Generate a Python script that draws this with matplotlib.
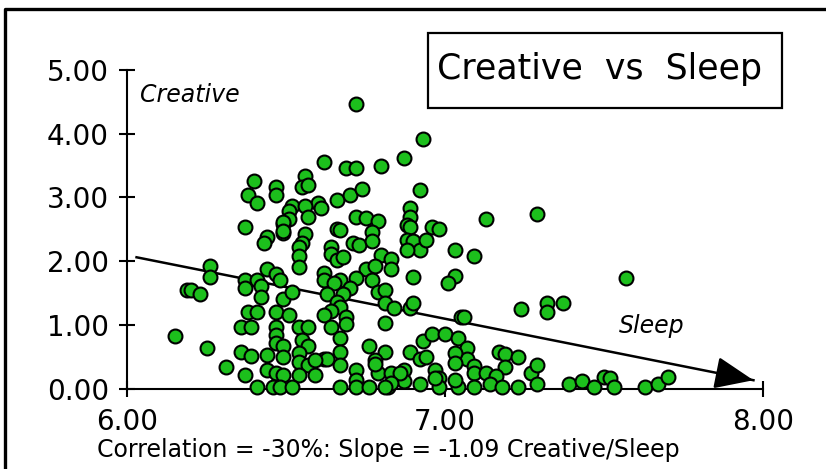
import matplotlib
matplotlib.use("Agg")
import matplotlib.pyplot as plt
from matplotlib.lines import Line2D
from matplotlib.patches import Rectangle

# Hours of sleep vs creative score
sleep = [6.72, 6.62, 6.69, 6.72, 6.40, 6.47, 6.56, 6.55, 6.57, 6.38,
         6.47, 6.41, 6.52, 6.51, 6.60, 6.61, 6.56, 6.66, 6.70, 6.74,
         6.51, 6.57, 6.49, 6.37, 6.49, 6.44, 6.43, 6.56, 6.55, 6.54,
         6.54, 6.54, 6.66, 6.67, 6.64, 6.64, 6.66, 6.68, 6.71, 6.73,
         6.72, 6.75, 6.75, 6.72, 6.62, 6.62, 6.67, 6.70, 6.65, 6.63,
         6.68, 6.66, 6.67, 6.69, 6.69, 6.64, 6.62, 6.64, 6.67, 6.67,
         6.67, 6.62, 6.63, 6.72, 6.72, 6.76, 6.67, 6.26, 6.26, 6.19,
         6.20, 6.23, 6.15, 6.25, 6.31, 6.37, 6.37, 6.41, 6.42, 6.44,
         6.47, 6.48, 6.42, 6.49, 6.52, 6.38, 6.41, 6.47, 6.51, 6.36,
         6.39, 6.47, 6.47, 6.54, 6.57, 6.55, 6.47, 6.49, 6.57, 6.36,
         6.39, 6.44, 6.49, 6.54, 6.54, 6.57, 6.59, 6.44, 6.47, 6.49,
         6.37, 6.54, 6.59, 6.41, 6.46, 6.48, 6.52, 6.72, 6.93, 6.87,
         6.80, 6.92, 7.13, 7.29, 6.89, 6.89, 6.88, 6.89, 6.79, 6.77,
         6.77, 6.88, 6.90, 6.92, 6.88, 6.94, 6.96, 6.98, 7.03, 7.09,
         6.80, 6.83, 6.78, 6.83, 6.90, 7.03, 7.01, 6.77, 6.79, 6.81,
         6.81, 6.84, 6.89, 6.90, 7.05, 7.06, 7.24, 7.32, 7.32, 7.37,
         6.81, 6.81, 6.78, 6.79, 6.83, 6.87, 6.89, 6.92, 6.94, 6.93,
         6.96, 7.00, 7.04, 7.07, 7.07, 7.03, 7.03, 6.97, 6.98, 7.09,
         7.09, 7.13, 7.17, 7.19, 7.23, 7.19, 7.16, 7.27, 7.29, 6.76,
         6.82, 6.87, 6.92, 6.98, 7.04, 7.09, 7.14, 7.18, 7.23, 7.29,
         7.39, 7.43, 7.47, 7.50, 7.52, 7.53, 7.63, 7.67, 7.70, 7.57,
         6.49, 6.49, 6.97, 7.03, 6.86, 6.78, 6.83, 6.81]
creative = [4.46, 3.55, 3.46, 3.46, 3.26, 3.17, 3.33, 3.16, 3.20, 3.04,
            3.04, 2.91, 2.87, 2.79, 2.91, 2.83, 2.86, 2.96, 3.04, 3.13,
            2.66, 2.70, 2.58, 2.53, 2.44, 2.38, 2.29, 2.42, 2.29, 2.22,
            2.08, 1.91, 2.51, 2.49, 2.22, 2.11, 2.01, 2.07, 2.28, 2.25,
            2.69, 2.68, 1.87, 1.74, 1.81, 1.70, 1.70, 1.58, 1.65, 1.49,
            1.49, 1.36, 1.28, 1.12, 1.02, 1.22, 1.15, 0.97, 0.79, 0.58,
            0.37, 0.46, 0.46, 0.29, 0.14, 0.67, 0.03, 1.92, 1.75, 1.54,
            1.54, 1.49, 0.83, 0.63, 0.33, 1.71, 1.58, 1.70, 1.61, 1.87,
            1.80, 1.70, 1.44, 1.41, 1.52, 1.20, 1.20, 1.20, 1.15, 0.96,
            0.96, 0.96, 0.84, 0.96, 0.96, 0.76, 0.71, 0.66, 0.67, 0.58,
            0.51, 0.53, 0.50, 0.55, 0.42, 0.37, 0.45, 0.29, 0.24, 0.21,
            0.21, 0.21, 0.21, 0.03, 0.03, 0.03, 0.03, 0.03, 3.91, 3.62,
            3.50, 3.11, 2.66, 2.74, 2.83, 2.69, 2.57, 2.53, 2.63, 2.45,
            2.32, 2.33, 2.32, 2.17, 2.17, 2.33, 2.54, 2.51, 2.17, 2.08,
            2.09, 2.04, 1.92, 1.87, 1.75, 1.76, 1.66, 1.70, 1.52, 1.55,
            1.34, 1.26, 1.27, 1.34, 1.13, 1.12, 1.25, 1.34, 1.20, 1.34,
            1.03, 0.58, 0.45, 0.25, 0.24, 0.29, 0.58, 0.47, 0.50, 0.75,
            0.86, 0.86, 0.79, 0.63, 0.47, 0.55, 0.40, 0.29, 0.16, 0.36,
            0.24, 0.24, 0.58, 0.54, 0.49, 0.33, 0.19, 0.24, 0.37, 0.03,
            0.03, 0.11, 0.07, 0.03, 0.03, 0.03, 0.07, 0.03, 0.03, 0.07,
            0.07, 0.11, 0.03, 0.18, 0.16, 0.03, 0.03, 0.07, 0.18, 1.74,
            2.61, 2.48, 0.17, 0.14, 0.24, 0.38, 0.08, 0.03]

# regression arrow end points (sleep, creative)
trend_x = [6.03, 7.97]
trend_y = [2.06, 0.13]

xticks = [6.0, 7.0, 8.0]
yticks = [0, 1, 2, 3, 4, 5]

W, H = 826, 469
fig = plt.figure(figsize=(W / 100, H / 100), dpi=100)
ax = fig.add_axes([127 / W, 1 - 388.5 / H, (763 - 127) / W, (388.5 - 70) / H])
ax.set_xlim(6, 8)
ax.set_ylim(0, 5)

ax.plot(trend_x, trend_y, color="black", lw=1.8, zorder=2)
ax.annotate("", xy=(trend_x[1], trend_y[1]),
            xytext=(trend_x[1] - 0.08, trend_y[1] + 0.08),
            arrowprops=dict(arrowstyle="-|>,head_length=1.2,head_width=0.5",
                            mutation_scale=20, color="black", lw=1.8,
                            shrinkA=0, shrinkB=0),
            zorder=4)

ax.scatter(sleep, creative, s=100, color="#1cbf1c", edgecolor="black",
           linewidth=1.5, zorder=3, clip_on=False)

for side in ["top", "right"]:
    ax.spines[side].set_visible(False)
for side in ["left", "bottom"]:
    ax.spines[side].set_linewidth(1.5)

ax.set_xticks(xticks)
ax.set_yticks(yticks)
ax.set_xticklabels(["%.2f" % v for v in xticks])
ax.set_yticklabels(["%.2f" % v for v in yticks])
ax.tick_params(axis="both", direction="inout", length=12, width=1.5,
               labelsize=20, pad=7)
ax.tick_params(axis="x", pad=8)

ax.text(6.04, 4.6, "Creative", fontsize=17, style="italic", ha="left", va="center")
ax.text(7.65, 0.98, "Sleep", fontsize=17, style="italic", ha="center", va="center")

# title box
fig.patches.append(Rectangle((428 / W, 1 - 108 / H), (782 - 428) / W, (108 - 33) / H,
                             transform=fig.transFigure, fill=False,
                             edgecolor="black", lw=1.6))
fig.text(600 / W, 1 - 79 / H, "Creative  vs  Sleep", fontsize=25,
         ha="center", va="baseline")

fig.text(97 / W, 1 - 457 / H, "Correlation = -30%: Slope = -1.09 Creative/Sleep",
         fontsize=17, ha="left", va="baseline")

# outer frame (top and left edges)
fig.lines.append(Line2D([5 / W, 5 / W, 1.0], [0.0, 1 - 9 / H, 1 - 9 / H],
                        transform=fig.transFigure, color="black", lw=2.4))

fig.savefig("out.png", dpi=100)
